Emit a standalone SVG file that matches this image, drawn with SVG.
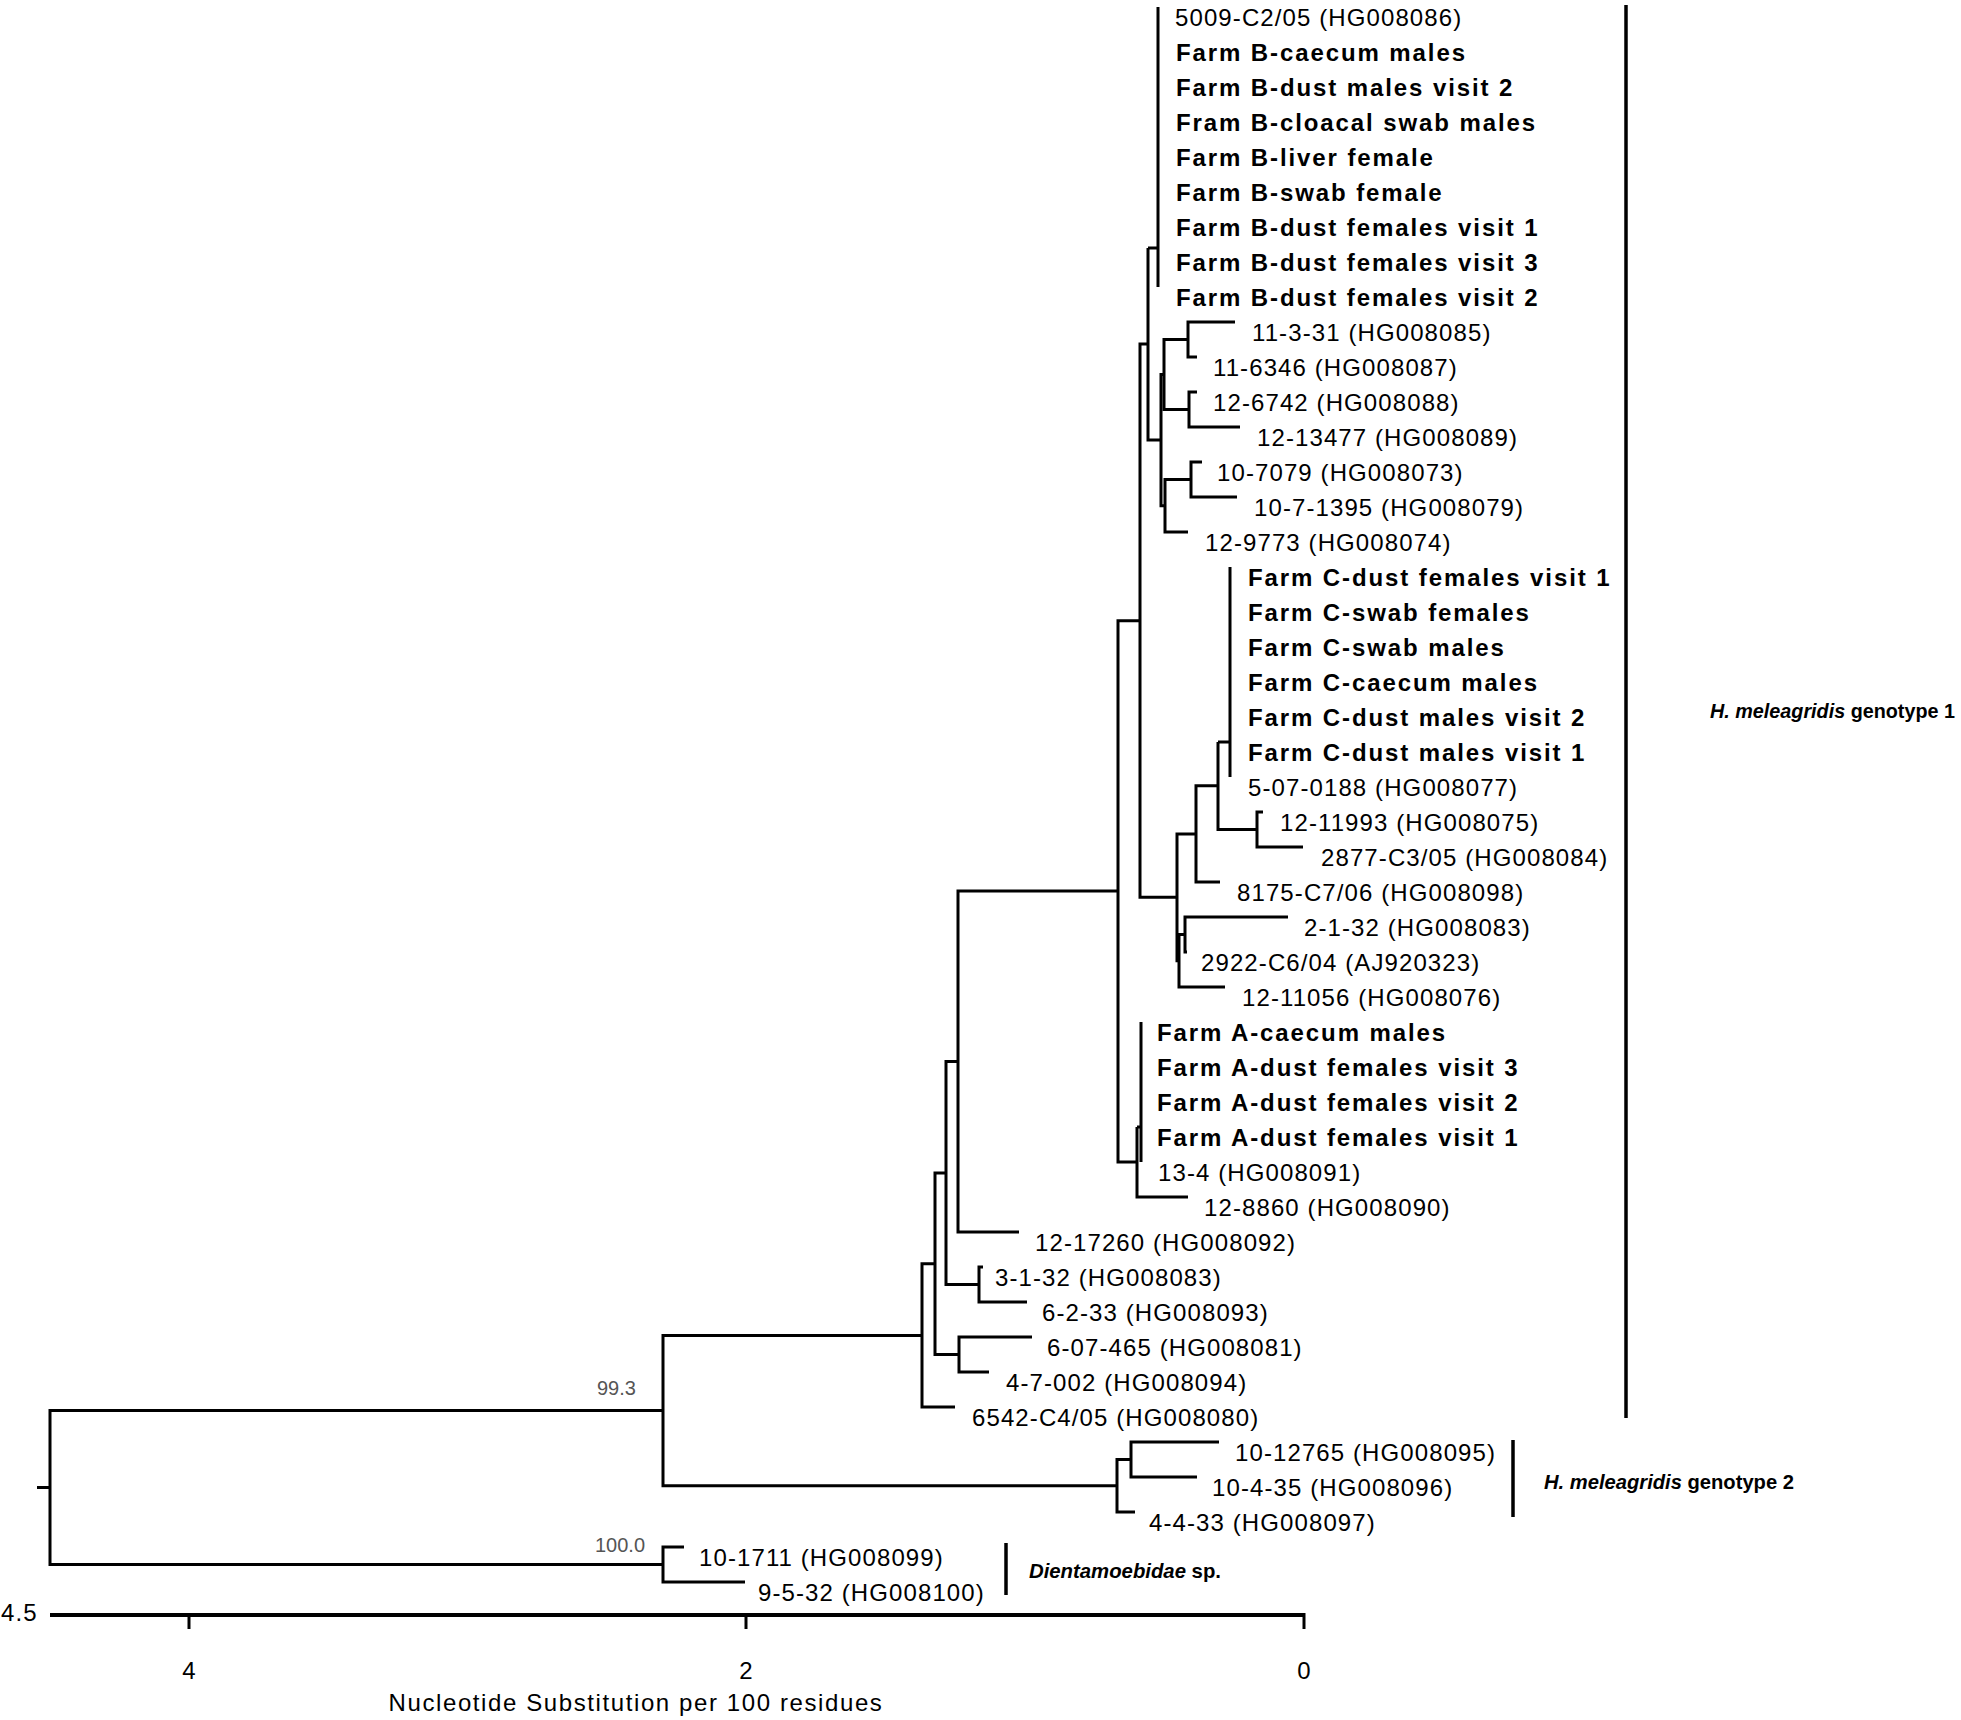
<svg xmlns="http://www.w3.org/2000/svg" width="1961" height="1720" viewBox="0 0 1961 1720">
<style>
text{font-family:"Liberation Sans",Arial,sans-serif;fill:#000}
.l{font-size:24px;letter-spacing:1.1px}
.b{font-size:24px;font-weight:bold;letter-spacing:1.9px}
.s{font-size:20px;fill:#555}
.c{font-size:21px;font-weight:bold}
.t{font-size:24px;text-anchor:middle}
.e path{fill:none;stroke:#000;stroke-width:3}
.bar{stroke:#000;stroke-width:3.5}
</style>
<rect width="1961" height="1720" fill="#fff"/>
<g id="connectors" class="e">
<path d="M1158 7 V287 M1148 248 H1158"/>
<path d="M1188 339.5 V322 H1235 M1188 339.5 V357 H1197"/>
<path d="M1189 409.5 V392 H1197 M1189 409.5 V427 H1240"/>
<path d="M1164 374.5 V339.5 H1188 M1164 374.5 V409.5 H1189"/>
<path d="M1191 479.5 V462 H1202 M1191 479.5 V497 H1237"/>
<path d="M1165 505.75 V479.5 H1191 M1165 505.75 V532 H1188"/>
<path d="M1161 440 V374.5 H1164 M1161 440 V505.75 H1165"/>
<path d="M1148 344 V248 M1148 344 V440 H1161"/>
<path d="M1230 567 V777 M1218 742 H1230"/>
<path d="M1257 829.5 V812 H1263 M1257 829.5 V847 H1303"/>
<path d="M1218 785.75 V742 M1218 785.75 V829.5 H1257"/>
<path d="M1196 833.9 V785.75 H1218 M1196 833.9 V882 H1220"/>
<path d="M1185 934.5 V917 H1288 M1185 934.5 V952 H1187"/>
<path d="M1179 960.75 V934.5 H1185 M1179 960.75 V987 H1225"/>
<path d="M1177 897.3 V833.9 H1196 M1177 897.3 V960.75 H1179"/>
<path d="M1140 620.7 V344 H1148 M1140 620.7 V897.3 H1177"/>
<path d="M1141 1022 V1162 M1137 1127 H1141"/>
<path d="M1137 1162 V1127 M1137 1162 V1197 H1188"/>
<path d="M1118 891 V620.7 H1140 M1118 891 V1162 H1137"/>
<path d="M958 1061.5 V891 H1118 M958 1061.5 V1232 H1019"/>
<path d="M979 1284.5 V1267 H983 M979 1284.5 V1302 H1027"/>
<path d="M946 1173 V1061.5 H958 M946 1173 V1284.5 H979"/>
<path d="M959 1354.5 V1337 H1032 M959 1354.5 V1372 H989"/>
<path d="M935 1263.75 V1173 H946 M935 1263.75 V1354.5 H959"/>
<path d="M922 1335.4 V1263.75 H935 M922 1335.4 V1407 H955"/>
<path d="M1131 1459.5 V1442 H1219 M1131 1459.5 V1477 H1197"/>
<path d="M1117 1485.75 V1459.5 H1131 M1117 1485.75 V1512 H1135"/>
<path d="M663 1410.6 V1335.4 H922 M663 1410.6 V1485.75 H1117"/>
<path d="M663 1564.5 V1547 H684 M663 1564.5 V1582 H745"/>
<path d="M50 1487.5 V1410.6 H663 M50 1487.5 V1564.5 H663 M37 1487.5 H50"/>
</g>
<g id="support">
<text class="s" x="597" y="1395">99.3</text>
<text class="s" x="595" y="1552">100.0</text>
</g>
<g id="farmB">
<text class="l" x="1175" y="26">5009-C2/05 (HG008086)</text>
<text class="b" x="1176" y="61">Farm B-caecum males</text>
<text class="b" x="1176" y="96">Farm B-dust males visit 2</text>
<text class="b" x="1176" y="131">Fram B-cloacal swab males</text>
<text class="b" x="1176" y="166">Farm B-liver female</text>
<text class="b" x="1176" y="201">Farm B-swab female</text>
<text class="b" x="1176" y="236">Farm B-dust females visit 1</text>
<text class="b" x="1176" y="271">Farm B-dust females visit 3</text>
<text class="b" x="1176" y="306">Farm B-dust females visit 2</text>
</g>
<g id="clusterB2">
<text class="l" x="1252" y="341">11-3-31 (HG008085)</text>
<text class="l" x="1213" y="376">11-6346 (HG008087)</text>
<text class="l" x="1213" y="411">12-6742 (HG008088)</text>
<text class="l" x="1257" y="446">12-13477 (HG008089)</text>
<text class="l" x="1217" y="481">10-7079 (HG008073)</text>
<text class="l" x="1254" y="516">10-7-1395 (HG008079)</text>
<text class="l" x="1205" y="551">12-9773 (HG008074)</text>
</g>
<g id="farmC">
<text class="b" x="1248" y="586">Farm C-dust females visit 1</text>
<text class="b" x="1248" y="621">Farm C-swab females</text>
<text class="b" x="1248" y="656">Farm C-swab males</text>
<text class="b" x="1248" y="691">Farm C-caecum males</text>
<text class="b" x="1248" y="726">Farm C-dust males visit 2</text>
<text class="b" x="1248" y="761">Farm C-dust males visit 1</text>
<text class="l" x="1248" y="796">5-07-0188 (HG008077)</text>
<text class="l" x="1280" y="831">12-11993 (HG008075)</text>
<text class="l" x="1321" y="866">2877-C3/05 (HG008084)</text>
<text class="l" x="1237" y="901">8175-C7/06 (HG008098)</text>
<text class="l" x="1304" y="936">2-1-32 (HG008083)</text>
<text class="l" x="1201" y="971">2922-C6/04 (AJ920323)</text>
<text class="l" x="1242" y="1006">12-11056 (HG008076)</text>
</g>
<g id="farmA">
<text class="b" x="1157" y="1041">Farm A-caecum males</text>
<text class="b" x="1157" y="1076">Farm A-dust females visit 3</text>
<text class="b" x="1157" y="1111">Farm A-dust females visit 2</text>
<text class="b" x="1157" y="1146">Farm A-dust females visit 1</text>
<text class="l" x="1158" y="1181">13-4 (HG008091)</text>
<text class="l" x="1204" y="1216">12-8860 (HG008090)</text>
</g>
<g id="basal1">
<text class="l" x="1035" y="1251">12-17260 (HG008092)</text>
<text class="l" x="995" y="1286">3-1-32 (HG008083)</text>
<text class="l" x="1042" y="1321">6-2-33 (HG008093)</text>
<text class="l" x="1047" y="1356">6-07-465 (HG008081)</text>
<text class="l" x="1006" y="1391">4-7-002 (HG008094)</text>
<text class="l" x="972" y="1426">6542-C4/05 (HG008080)</text>
</g>
<g id="genotype2">
<text class="l" x="1235" y="1461">10-12765 (HG008095)</text>
<text class="l" x="1212" y="1496">10-4-35 (HG008096)</text>
<text class="l" x="1149" y="1531">4-4-33 (HG008097)</text>
</g>
<g id="dientamoebidae">
<text class="l" x="699" y="1566">10-1711 (HG008099)</text>
<text class="l" x="758" y="1601">9-5-32 (HG008100)</text>
</g>
<g id="clade-labels">
<line class="bar" x1="1626" y1="5" x2="1626" y2="1418"/>
<text class="c" x="1710" y="718" textLength="245" lengthAdjust="spacingAndGlyphs"><tspan font-style="italic">H. meleagridis</tspan> genotype 1</text>
<line class="bar" x1="1513" y1="1440" x2="1513" y2="1517"/>
<text class="c" x="1544" y="1489" textLength="250" lengthAdjust="spacingAndGlyphs"><tspan font-style="italic">H. meleagridis</tspan> genotype 2</text>
<line class="bar" x1="1006" y1="1543" x2="1006" y2="1595"/>
<text class="c" x="1029" y="1578" textLength="192" lengthAdjust="spacingAndGlyphs"><tspan font-style="italic">Dientamoebidae</tspan> sp.</text>
</g>
<g id="axis">
<line x1="50" y1="1615" x2="1304" y2="1615" stroke="#000" stroke-width="4"/>
<line x1="189" y1="1615" x2="189" y2="1629" stroke="#000" stroke-width="3"/>
<line x1="746" y1="1615" x2="746" y2="1629" stroke="#000" stroke-width="3"/>
<line x1="1304" y1="1613" x2="1304" y2="1629" stroke="#000" stroke-width="3"/>
<text class="l" x="1" y="1621">4.5</text>
<text class="t" x="189" y="1679">4</text>
<text class="t" x="746" y="1679">2</text>
<text class="t" x="1304" y="1679">0</text>
<text class="t" x="636" y="1711" style="letter-spacing:1.6px">Nucleotide Substitution per 100 residues</text>
</g>
</svg>
